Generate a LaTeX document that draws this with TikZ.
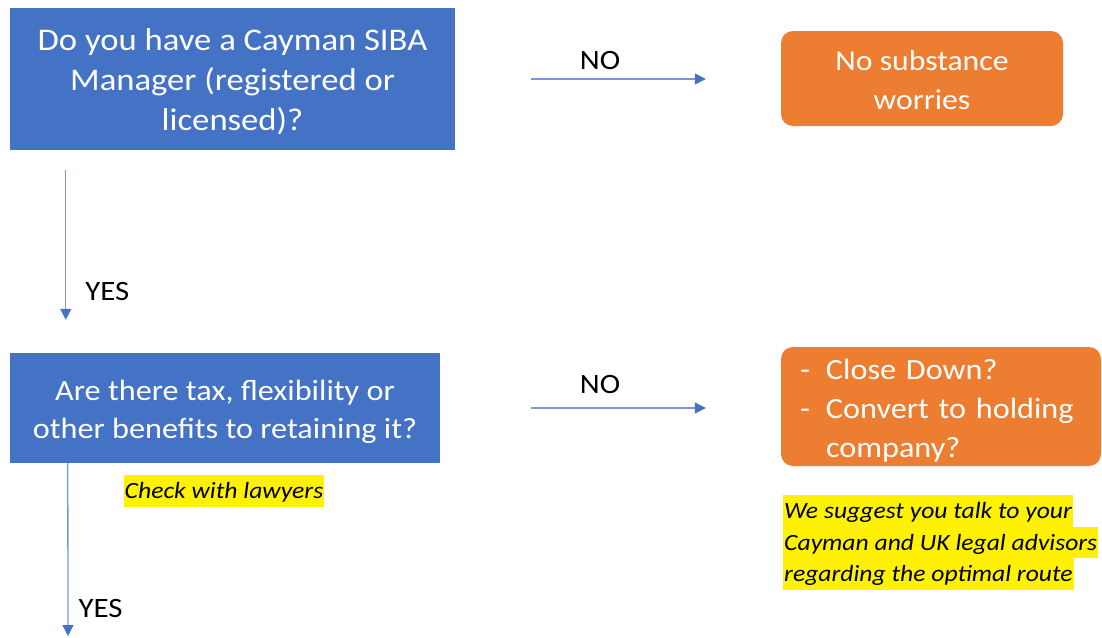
\documentclass[tikz,border=0pt]{standalone}
\usepackage{fontspec}
\setmainfont{Carlito}[FakeStretch=1.1]
\usetikzlibrary{arrows.meta}

\definecolor{boxblue}{HTML}{4472C4}
\definecolor{boxorange}{HTML}{ED7D31}
\definecolor{lineblue}{HTML}{7B96D6}
\setlength{\fboxsep}{1pt}
\newcommand{\hl}[1]{\colorbox{yellow}{\vrule height 22.5pt depth 7pt width 0pt #1}}
\newcommand{\tstrut}[1]{\rule{0pt}{\dimexpr0.7em+#1\relax}}

\begin{document}
\begin{tikzpicture}[x=1pt,y=-1pt,->,>={Triangle[length=11pt,width=11pt,color=boxblue]},
                    flow/.style={draw=lineblue,line width=1.3pt},
                    lbl/.style={inner sep=0pt,font=\fontsize{28}{30}\selectfont},
                    note/.style={inner sep=0pt,align=left,font=\fontsize{23.3}{31.5}\itshape}]
  \tikzstyle{qbox}=[fill=boxblue,text=white,align=center,inner sep=0pt]
  \tikzstyle{abox}=[fill=boxorange,text=white,align=center,rounded corners=12pt,inner sep=0pt]
  \useasboundingbox (0,0) rectangle (1102,637);

  \node[qbox,minimum width=445pt,minimum height=142pt,font=\fontsize{31.5}{40}\selectfont]
        (A) at (232.5,79) {\tstrut{6pt}Do you have a Cayman SIBA\\ Manager (registered or\\ licensed)?};
  \node[abox,minimum width=282pt,minimum height=95pt,font=\fontsize{28.8}{39}\selectfont]
        (B) at (922,78.5) {\tstrut{4pt}No substance\\ worries};
  \node[qbox,minimum width=430pt,minimum height=110pt,font=\fontsize{29.3}{38}\selectfont]
        (C) at (225,408) {\tstrut{8pt}Are there tax, flexibility or\\ other benefits to retaining it?};
  \node[abox,text width=282pt,inner xsep=19pt,minimum height=119pt,align=left,
        font=\fontsize{29.3}{39}\selectfont]
        (D) at (941,406.5) {\tstrut{8pt}\makebox[26pt][l]{-}Close Down?\\ \makebox[26pt][l]{-}Convert to holding\\ \hspace*{26pt}company?};

  \node[note] (N1) at (224,491) {\hl{Check with lawyers}};
  \node[note,anchor=north west] (N2) at (783,495)
        {\hl{We suggest you talk to your}\\ \hl{Cayman and UK legal advisors}\\ \hl{regarding the optimal route}};
  \coordinate (end) at (68,636);

  \draw[flow] ([xshift=76pt]A.east) -- node[lbl,pos=0.394,above=9pt] {NO} ([xshift=-75pt]A.east -| B.west);
  \draw[flow] ([xshift=91pt]C.east) -- node[lbl,pos=0.394,above=14pt] {NO} ([xshift=-75pt]C.east -| D.west);
  \draw[flow] ([xshift=56pt,yshift=-20pt]A.south west) -- node[lbl,pos=0.81,right=19pt] {YES}
              ([xshift=56pt,yshift=33pt]C.north west);
  \draw[flow] ([xshift=58pt]C.south west) -- node[lbl,pos=0.84,right=10pt] {YES} (end);
\end{tikzpicture}
\end{document}
